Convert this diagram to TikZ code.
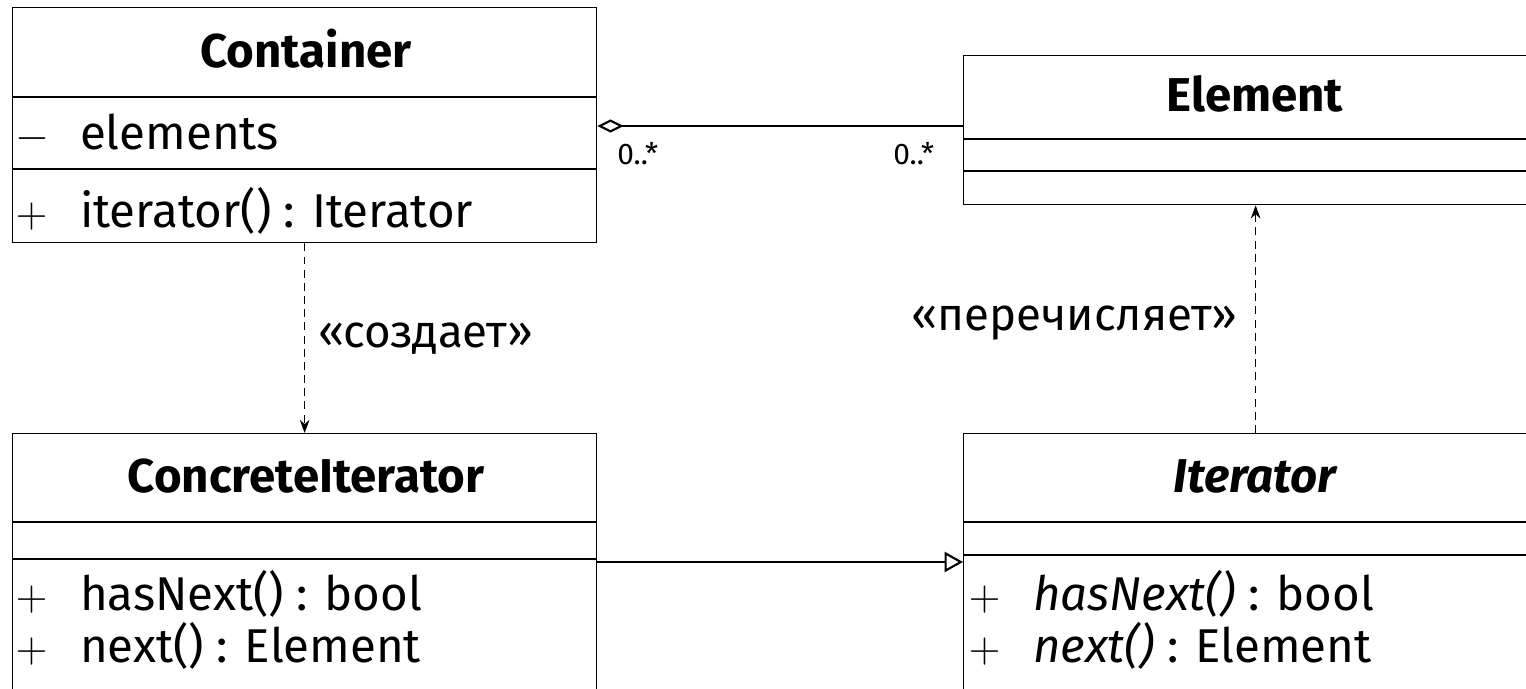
\documentclass[tikz,border=0pt]{standalone}
\usepackage{fontspec}
\setmainfont{Fira Sans}
\usetikzlibrary{arrows.meta}

\newcommand{\vis}[1]{\makebox[38pt][l]{\hspace{1.5pt}$#1$}}

\begin{document}
\begin{tikzpicture}[x=0.02cm, y=-0.02cm,
    classbox/.style={draw, line width=0.8pt, anchor=north west, minimum width=11.68cm, inner sep=0pt},
    classname/.style={anchor=base, inner sep=0pt, font=\fontsize{27}{31}\selectfont\bfseries},
    member/.style={anchor=base west, inner sep=0pt, font=\fontsize{27}{31}\selectfont},
    stereo/.style={anchor=base west, inner sep=0pt, font=\fontsize{26}{30}\selectfont},
    mult/.style={anchor=base west, inner sep=0pt, font=\fontsize{17}{19}\selectfont},
    dep/.style={line width=0.6pt, dash pattern=on 4.5pt off 3pt, -{Stealth[length=7.5pt, width=5.5pt]}},
    aggr/.style={line width=0.6pt, {Diamond[open, length=15pt, width=7.5pt, line width=1.2pt]}-},
    gen/.style={line width=0.6pt, -{Triangle[open, length=10.5pt, width=11.5pt, line width=1.2pt]}}]
        \clip (0,0) rectangle (1526,689);
        
        \node[classbox, minimum height=4.7cm] (container) at (12,7) {};
        \node[classbox, minimum height=2.98cm] (element) at (963,55) {};
        \node[classbox, minimum height=5.4cm] (concrete) at (12,433) {};
        \node[classbox, minimum height=5.4cm] (iterator) at (963,433) {};
        
        \draw[line width=0.8pt] (container.west |- 0,97) -- (container.east |- 0,97);
        \draw[line width=0.8pt] (container.west |- 0,169) -- (container.east |- 0,169);
        \draw[line width=0.8pt] (element.west |- 0,139) -- (element.east |- 0,139);
        \draw[line width=0.8pt] (element.west |- 0,171) -- (element.east |- 0,171);
        \draw[line width=0.8pt] (concrete.west |- 0,522) -- (concrete.east |- 0,522);
        \draw[line width=0.8pt] (concrete.west |- 0,559) -- (concrete.east |- 0,559);
        \draw[line width=0.8pt] (iterator.west |- 0,522) -- (iterator.east |- 0,522);
        \draw[line width=0.8pt] (iterator.west |- 0,555) -- (iterator.east |- 0,555);
        
        \node[classname] (containername) at (306,68) {Container};
        \node[classname] (elementname) at (1255,112) {Element};
        \node[classname] (concretename) at (306,492) {ConcreteIterator};
        \node[classname] (iteratorname) at (1255,492) {\itshape Iterator};
        
        \node[member] (elements) at (13,150) {\vis{-}elements};
        \node[member] (itermethod) at (13,228) {\vis{+}iterator() : Iterator};
        \node[member] (hasnexta) at (13,610) {\vis{+}hasNext() : bool};
        \node[member] (nexta) at (13,662) {\vis{+}next() : Element};
        \node[member] (hasnextb) at (966,610) {\vis{+}\textit{hasNext()} : bool};
        \node[member] (nextb) at (966,662) {\vis{+}\textit{next()} : Element};
        
        \node[mult] (multa) at (617,165) {0..*};
        \node[mult] (multb) at (893,165) {0..*};
        
        \draw[aggr] (container.east |- 0,126) -- (element.west |- 0,126);
        \draw[dep] (container.south) -- (concrete.north);
        \draw[dep] (iterator.north) -- (element.south);
        \draw[gen] (concrete.east |- 0,562) -- (iterator.west |- 0,562);
        
        \node[stereo] (creates) at (318,348) {«создает»};
        \node[stereo, anchor=base east] (enumerates) at (1238,331) {«перечисляет»};
        
\end{tikzpicture}
\end{document}
